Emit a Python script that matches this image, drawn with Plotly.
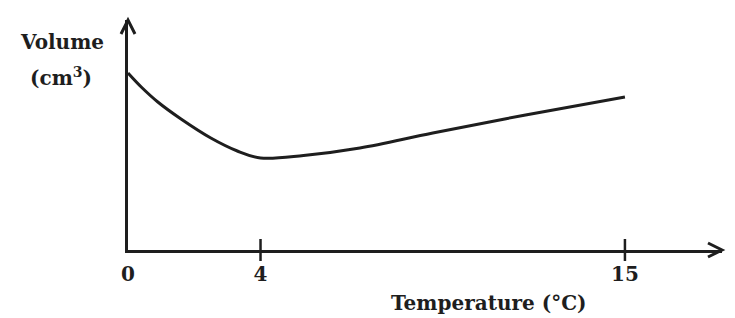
import plotly.graph_objects as go

# Data (schematic volume of water vs temperature)
temperature = [0, 0.4, 0.9, 1.6, 2.5, 3.3, 4.0, 5.3, 7.0, 9.2, 12.0, 15.0]
volume = [17.7, 16.3, 14.8, 13.1, 11.2, 9.9, 9.2, 9.45, 10.2, 11.7, 13.5, 15.3]

tick_vals = [0, 4, 15]
tick_text = ["0", "4", "15"]
tick_marks = [4, 15]

x_max = 17.93
y_max = 23.0

ink = "#1e1e1e"
font_family = "DejaVu Serif"

fig = go.Figure()
fig.add_trace(go.Scatter(
    x=temperature, y=volume, mode="lines",
    line=dict(color=ink, width=3, shape="spline", smoothing=1.0),
    hoverinfo="skip", showlegend=False,
))

shapes = []
for t in tick_marks:
    shapes.append(dict(type="line", xref="paper", yref="paper",
                       xsizemode="pixel", ysizemode="pixel",
                       xanchor=t / x_max, yanchor=0, x0=0, x1=0, y0=-11, y1=11,
                       line=dict(color=ink, width=2.5)))
# arrow heads at ends of axes
shapes.append(dict(type="path", xref="paper", yref="paper", xsizemode="pixel", ysizemode="pixel",
                   xanchor=1, yanchor=0, path="M -14,7 L 0,0 L -14,-7",
                   line=dict(color=ink, width=3)))
shapes.append(dict(type="path", xref="paper", yref="paper", xsizemode="pixel", ysizemode="pixel",
                   xanchor=0, yanchor=1, path="M -7,-14 L 0,0 L 7,-14",
                   line=dict(color=ink, width=3)))

bold = dict(family=font_family, size=20, color=ink, weight="bold")

fig.update_layout(
    width=735, height=318,
    margin=dict(l=128, r=13, t=20, b=68),
    paper_bgcolor="white", plot_bgcolor="white",
    shapes=shapes,
    xaxis=dict(range=[0, x_max], showgrid=False, zeroline=False,
               showline=True, linewidth=3, linecolor=ink,
               tickvals=tick_vals, ticktext=tick_text, ticks="",
               tickfont=bold, ticklabelstandoff=4),
    yaxis=dict(range=[0, y_max], showgrid=False, zeroline=False,
               showline=True, linewidth=3, linecolor=ink,
               showticklabels=False, ticks=""),
    annotations=[
        dict(text="Volume", xref="paper", yref="paper", x=-0.111, y=0.904,
             showarrow=False, font=bold, xanchor="center", yanchor="middle"),
        dict(text="(cm<sup>3</sup>)", xref="paper", yref="paper", x=-0.113, y=0.752,
             showarrow=False, font=bold, xanchor="center", yanchor="middle"),
        dict(text="Temperature (°C)", xref="paper", yref="paper", x=0.608, y=-0.2304,
             showarrow=False, font=bold, xanchor="center", yanchor="middle"),
    ],
)

fig.write_html("out.html")
